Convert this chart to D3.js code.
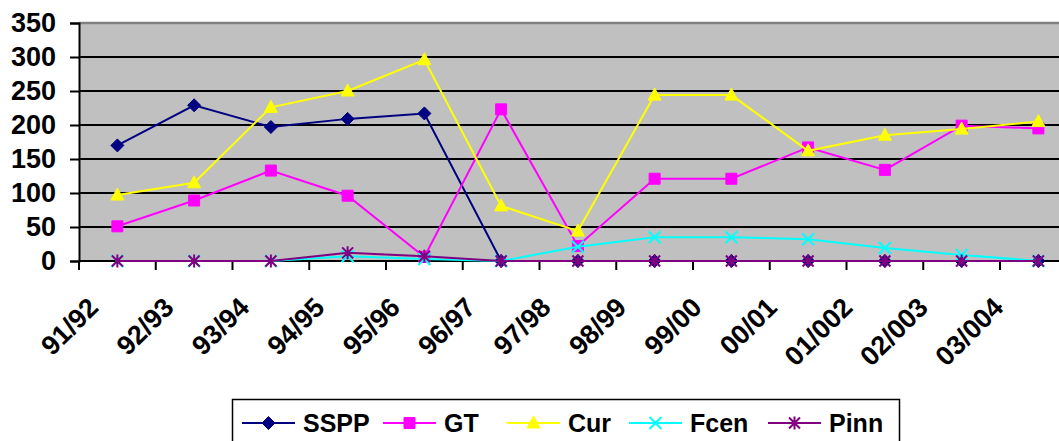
<!DOCTYPE html>
<html>
<head>
<meta charset="utf-8">
<script src="https://cdn.jsdelivr.net/npm/d3@7"></script>
<style>
  html, body { margin: 0; padding: 0; background: #fff; }
  svg { display: block; font-family: "Liberation Sans", Arial, sans-serif; font-weight: bold; }
</style>
</head>
<body>
<div id="chart"></div>
<script>
const categories = ['91/92', '92/93', '93/94', '94/95', '95/96', '96/97', '97/98',
  '98/99', '99/00', '00/01', '01/002', '02/003', '03/004'];
const yTicks = [0, 50, 100, 150, 200, 250, 300, 350];

const sspp = [170, 229, 197, 209, 217, 0, 0, 0, 0, 0, 0, 0, 0];
const gt = [51, 89, 133, 96, 6, 223, 22, 121, 121, 167, 134, 199, 195];
const cur = [97, 115, 226, 250, 296, 81, 44, 244, 244, 162, 185, 194, 205];
const fcen = [0, 0, 0, 7, 3, 0, 21, 35, 35, 32, 19, 9, 0];
const pinn = [0, 0, 0, 12, 7, 0, 0, 0, 0, 0, 0, 0, 0];

const seriesNames = ['SSPP', 'GT', 'Cur', 'Fcen', 'Pinn'];
const seriesValues = [sspp, gt, cur, fcen, pinn];
const seriesColors = ['#000080', '#FF00FF', '#FFFF00', '#00FFFF', '#800080'];
const seriesMarkers = ['diamond', 'square', 'triangle', 'cross', 'star'];

const width = 1059, height = 441;
const plot = { left: 79, top: 23, bottom: 261, step: 76.75 };

const svg = d3.select('#chart').append('svg')
  .attr('width', width).attr('height', height)
  .attr('viewBox', `0 0 ${width} ${height}`);

const x = d3.scaleBand()
  .domain(categories)
  .range([plot.left, plot.left + categories.length * plot.step])
  .padding(0);
const xc = c => x(c) + x.bandwidth() / 2;
// Excel packs the rotated labels a little tighter than the categories
const xLabel = d3.scalePoint().domain(categories).range([100, 1005]);

const y = d3.scaleLinear().domain([0, 350]).range([plot.bottom, plot.top]);

// plot area
svg.append('rect')
  .attr('x', plot.left).attr('y', plot.top)
  .attr('width', x.range()[1] - plot.left).attr('height', plot.bottom - plot.top)
  .attr('fill', '#C0C0C0');

// gridlines
svg.append('g')
  .selectAll('line')
  .data(yTicks.filter(d => d > 0 && d < 350))
  .join('line')
  .attr('x1', plot.left).attr('x2', x.range()[1])
  .attr('y1', d => y(d)).attr('y2', d => y(d))
  .attr('stroke', '#000').attr('stroke-width', 2);

svg.append('line')
  .attr('x1', plot.left).attr('x2', x.range()[1])
  .attr('y1', y(350)).attr('y2', y(350))
  .attr('stroke', '#808080').attr('stroke-width', 2.5);

// y axis
const yAxis = svg.append('g')
  .attr('transform', `translate(${plot.left},0)`)
  .call(d3.axisLeft(y).tickValues(yTicks).tickSize(9).tickPadding(14));
yAxis.select('.domain').attr('stroke', '#000').attr('stroke-width', 2);
yAxis.selectAll('.tick line').attr('stroke', '#000').attr('stroke-width', 2);
yAxis.selectAll('.tick text')
  .attr('font-size', 27).attr('font-family', '"Liberation Sans", Arial, sans-serif')
  .attr('font-weight', 'bold').attr('fill', '#000');

// x axis line and boundary ticks
svg.append('line')
  .attr('x1', plot.left).attr('x2', x.range()[1])
  .attr('y1', plot.bottom).attr('y2', plot.bottom)
  .attr('stroke', '#000').attr('stroke-width', 2);
svg.append('g')
  .selectAll('line')
  .data(categories)
  .join('line')
  .attr('x1', d => x(d)).attr('x2', d => x(d))
  .attr('y1', plot.bottom).attr('y2', plot.bottom + 9)
  .attr('stroke', '#000').attr('stroke-width', 2);

svg.append('g')
  .selectAll('text')
  .data(categories)
  .join('text')
  .attr('transform', d => `translate(${xLabel(d)},309) rotate(-45)`)
  .attr('text-anchor', 'end')
  .attr('font-size', 27)
  .attr('fill', '#000')
  .text(d => d);

function markerPath(type) {
  switch (type) {
    case 'diamond': return 'M0,-6.5L6.5,0L0,6.5L-6.5,0Z';
    case 'square': return 'M-5.5,-5.5H5.5V5.5H-5.5Z';
    case 'triangle': return 'M0,-7L6.5,5L-6.5,5Z';
    case 'cross': return 'M-6,-6L6,6M6,-6L-6,6';
    case 'star': return 'M-5.5,-5.5L5.5,5.5M5.5,-5.5L-5.5,5.5M0,-6.5V6.5';
  }
}
const filled = t => t === 'diamond' || t === 'square' || t === 'triangle';

const line = d3.line()
  .x((d, i) => xc(categories[i]))
  .y(d => y(d));

seriesValues.forEach((vals, s) => {
  const g = svg.append('g');
  g.append('path')
    .datum(vals)
    .attr('fill', 'none')
    .attr('stroke', seriesColors[s])
    .attr('stroke-width', 2)
    .attr('d', line);
  g.selectAll('path.m')
    .data(vals)
    .join('path')
    .attr('class', 'm')
    .attr('transform', (d, i) => `translate(${xc(categories[i])},${y(d)})`)
    .attr('d', markerPath(seriesMarkers[s]))
    .attr('fill', filled(seriesMarkers[s]) ? seriesColors[s] : 'none')
    .attr('stroke', seriesColors[s])
    .attr('stroke-width', filled(seriesMarkers[s]) ? 1 : 2);
});

// legend
const legend = svg.append('g');
legend.append('rect')
  .attr('x', 232.5).attr('y', 399.5)
  .attr('width', 667).attr('height', 50)
  .attr('fill', '#fff').attr('stroke', '#000').attr('stroke-width', 1.5);

const legendOffsets = [242, 383, 507, 629, 768];
const legendY = 423;
seriesNames.forEach((name, s) => {
  const item = legend.append('g').attr('transform', `translate(${legendOffsets[s]},${legendY})`);
  item.append('line')
    .attr('x1', 0).attr('x2', 53)
    .attr('stroke', seriesColors[s]).attr('stroke-width', 2);
  item.append('path')
    .attr('transform', 'translate(26.5,0)')
    .attr('d', markerPath(seriesMarkers[s]))
    .attr('fill', filled(seriesMarkers[s]) ? seriesColors[s] : 'none')
    .attr('stroke', seriesColors[s])
    .attr('stroke-width', filled(seriesMarkers[s]) ? 1 : 2);
  item.append('text')
    .attr('x', 61).attr('y', 9)
    .attr('font-size', 25)
    .attr('fill', '#000')
    .text(name);
});
</script>
</body>
</html>
